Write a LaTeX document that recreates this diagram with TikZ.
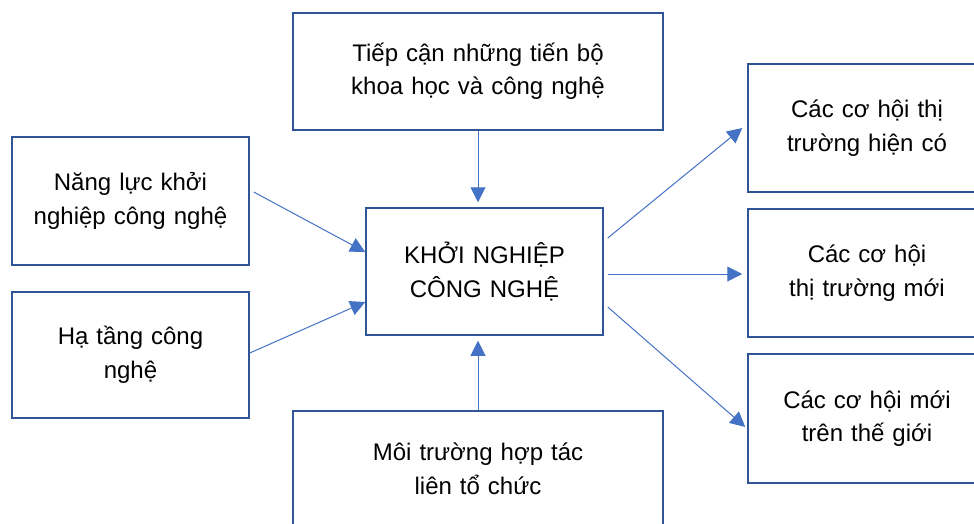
\documentclass[tikz,border=0pt]{standalone}
\usepackage{fontspec}
\setmainfont{Liberation Sans}
\usetikzlibrary{arrows.meta,calc}
\definecolor{boxblue}{HTML}{2F5597}
\definecolor{arrblue}{HTML}{4472C4}
\begin{document}
\begin{tikzpicture}[x=1pt,y=-1pt,
 box/.style={draw=boxblue,line width=1.5pt,fill=white,inner sep=0pt,align=center,font=\fontsize{24}{33.5}\selectfont},
 arr/.style={draw=arrblue,line width=1pt,-{Triangle[length=15pt,width=15pt]}}]
\useasboundingbox (0,0) rectangle (974,523);
\clip (0,0) rectangle (974,523);
\fill[white] (0,0) rectangle (974,523);
\node[box,minimum width=370pt,minimum height=117pt,text width=360pt] (top) at (478,71.5) {Tiếp cận những tiến bộ\\khoa học và công nghệ};
\node[box,minimum width=237pt,minimum height=127pt,text width=230pt] (c) at (484.5,271.5) {KHỞI NGHIỆP\\CÔNG NGHỆ};
\node[box,minimum width=237pt,minimum height=128pt,text width=230pt] (l1) at (130.5,201) {Năng lực khởi\\nghiệp công nghệ};
\node[box,minimum width=237pt,minimum height=126pt,text width=230pt] (l2) at (130.5,355) {Hạ tầng công\\nghệ};
\node[box,minimum width=370pt,minimum height=116pt,text width=360pt] (bot) at (478,469) {Môi trường hợp tác\\liên tổ chức};
\node[box,minimum width=238pt,minimum height=128pt,text width=230pt] (r1) at (867,128) {Các cơ hội thị\\trường hiện có};
\node[box,minimum width=238pt,minimum height=128pt,text width=230pt] (r2) at (867,273) {Các cơ hội\\thị trường mới};
\node[box,minimum width=238pt,minimum height=129pt,text width=230pt] (r3) at (867,418.5) {Các cơ hội mới\\trên thế giới};
\draw[arr] (top.south) -- ($(top.south|-c.north)+(0,-5)$);
\draw[arr] (bot.north) -- ($(bot.north|-c.south)+(0,5)$);
\draw[arr] ($(l1.east)+(4,-9)$) -- ($(c.west)+(0,-19.5)$);
\draw[arr] ($(l2.east)+(0,-2)$) -- ($(c.west)+(0,30.5)$);
\draw[arr] ($(c.east)+(4,-33.5)$) -- ($(r1.west)+(-5,0)$);
\draw[arr] ($(c.east)+(4,2.5)$) -- ($(r2.west)+(-5,1)$);
\draw[arr] ($(c.east)+(4,35.5)$) -- ($(r3.west)+(-2,8.5)$);
\end{tikzpicture}
\end{document}
